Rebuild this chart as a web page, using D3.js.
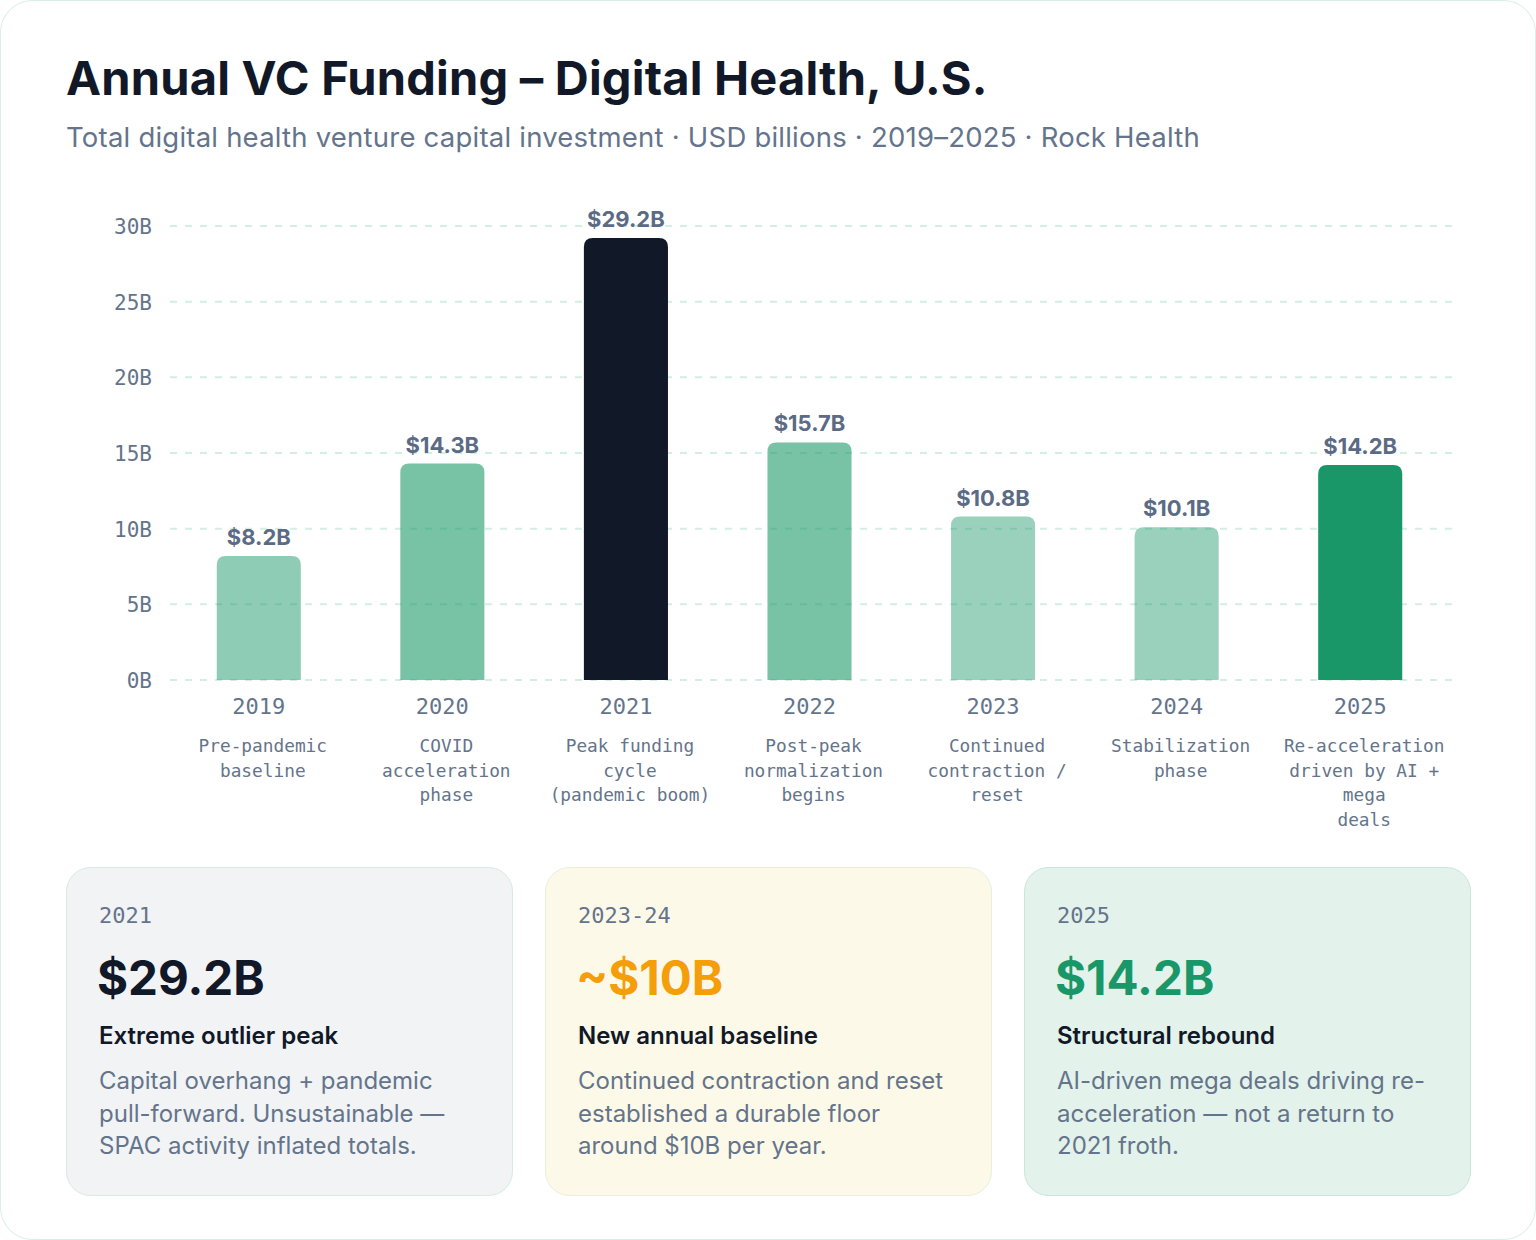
<!DOCTYPE html>
<html>
<head>
<meta charset="utf-8">
<script src="https://cdn.jsdelivr.net/npm/d3@7"></script>
<style>
  body { margin: 0; background: #fff; }
  #chart { width: 1536px; height: 1240px; }
</style>
</head>
<body>
<div id="chart"></div>
<script>
// 数据
const years = ["2019", "2020", "2021", "2022", "2023", "2024", "2025"];
const funding = [8.2, 14.3, 29.2, 15.7, 10.8, 10.1, 14.2];
const phases = [
  ["Pre-pandemic", "baseline"],
  ["COVID", "acceleration", "phase"],
  ["Peak funding", "cycle", "(pandemic boom)"],
  ["Post-peak", "normalization", "begins"],
  ["Continued", "contraction /", "reset"],
  ["Stabilization", "phase"],
  ["Re-acceleration", "driven by AI +", "mega", "deals"]
];
const yTicks = [0, 5, 10, 15, 20, 25, 30];

const cardYears = ["2021", "2023-24", "2025"];
const cardValues = ["$29.2B", "~$10B", "$14.2B"];
const cardTitles = ["Extreme outlier peak", "New annual baseline", "Structural rebound"];
const cardBodies = [
  ["Capital overhang + pandemic", "pull-forward. Unsustainable \u2014", "SPAC activity inflated totals."],
  ["Continued contraction and reset", "established a durable floor", "around $10B per year."],
  ["AI-driven mega deals driving re-", "acceleration \u2014 not a return to", "2021 froth."]
];

const W = 1536, H = 1240;
const sans = "Inter, 'Noto Sans', sans-serif";
const mono = "'DejaVu Sans Mono', 'Liberation Mono', monospace";
const slate = "#64748b";
const green = "#1a9768";

const svg = d3.select("#chart").append("svg")
  .attr("width", W).attr("height", H);

// 外框
svg.append("rect")
  .attr("x", 0.5).attr("y", 0.5).attr("width", W - 1).attr("height", H - 1)
  .attr("rx", 32).attr("fill", "#fff").attr("stroke", "#d8eee6");

// 标题
svg.append("text").attr("x", 66).attr("y", 95)
  .attr("font-family", sans).attr("font-weight", 700).attr("font-size", 47)
  .attr("letter-spacing", 0.2).attr("fill", "#111827")
  .text("Annual VC Funding \u2013 Digital Health, U.S.");
svg.append("text").attr("x", 66).attr("y", 147)
  .attr("font-family", sans).attr("font-size", 27.5).attr("letter-spacing", 0.22).attr("fill", slate)
  .text("Total digital health venture capital investment \u00b7 USD billions \u00b7 2019\u20132025 \u00b7 Rock Health");

// 比例尺
const x = d3.scaleBand().domain(years).range([167, 1452]).paddingInner(0.542).paddingOuter(0.271);
const y = d3.scaleLinear().domain([0, 30]).range([680, 226]);

// 网格
const grid = svg.append("g");
grid.selectAll("line").data(yTicks).join("line")
  .attr("x1", 170).attr("x2", 1455)
  .attr("y1", d => y(d)).attr("y2", d => y(d))
  .attr("stroke", "#d3eee3").attr("stroke-width", 2).attr("stroke-dasharray", "7,8");

// y轴
const yAxis = svg.append("g").attr("transform", "translate(152,0)")
  .call(d3.axisLeft(y).tickValues(yTicks).tickSize(0).tickPadding(0).tickFormat(d => d + "B"));
yAxis.select(".domain").remove();
yAxis.selectAll("text").attr("font-family", mono).attr("font-size", 21).attr("fill", slate).attr("dy", "0.35em");

// 柱子
const opac = [0.49, 0.59, 1, 0.59, 0.44, 0.44, 1];
const fills = [green, green, "#111827", green, green, green, green];
function topRounded(x0, y0, w, h, r) {
  r = Math.min(r, h);
  return `M${x0},${y0 + h}V${y0 + r}Q${x0},${y0} ${x0 + r},${y0}H${x0 + w - r}Q${x0 + w},${y0} ${x0 + w},${y0 + r}V${y0 + h}Z`;
}
svg.append("g").selectAll("path").data(funding).join("path")
  .attr("d", (d, i) => topRounded(x(years[i]), y(d), x.bandwidth(), y(0) - y(d), 9))
  .attr("fill", (d, i) => fills[i]).attr("fill-opacity", (d, i) => opac[i]);

// 数值标签
svg.append("g").selectAll("text").data(funding).join("text")
  .attr("x", (d, i) => x(years[i]) + x.bandwidth() / 2)
  .attr("y", d => y(d) - 11)
  .attr("text-anchor", "middle")
  .attr("font-family", sans).attr("font-weight", 700).attr("font-size", 22)
  .attr("fill", "#5b6b85")
  .text(d => "$" + d.toFixed(1) + "B");

// x轴年份
const xAxis = svg.append("g").attr("transform", "translate(0,680)")
  .call(d3.axisBottom(x).tickSize(0).tickPadding(0));
xAxis.select(".domain").remove();
xAxis.selectAll("text").attr("font-family", mono).attr("font-size", 22).attr("fill", slate)
  .attr("dy", 0).attr("y", 34);

// 阶段说明
const ph = svg.append("g").selectAll("text").data(phases).join("text")
  .attr("text-anchor", "middle")
  .attr("font-family", mono).attr("font-size", 17.8).attr("fill", slate);
ph.selectAll("tspan").data((d, i) => d.map(t => ({ t, i }))).join("tspan")
  .attr("x", d => x(years[d.i]) + x.bandwidth() / 2 + 4)
  .attr("y", (d, j) => 752 + j * 24.5)
  .text(d => d.t);

// 卡片
const cardX = [66, 545, 1024];
const cardBg = ["#f1f3f5", "#fdf9e9", "#e3f2ea"];
const cardBorder = ["#d6ebe2", "#ebeedc", "#c9e6d8"];
const cardValColor = ["#111827", "#f59e0b", green];
const cards = svg.append("g").selectAll("g").data(cardX).join("g")
  .attr("transform", d => `translate(${d},867)`);
cards.append("rect").attr("x", 0.5).attr("y", 0.5).attr("width", 446).attr("height", 328)
  .attr("rx", 24).attr("fill", (d, i) => cardBg[i]).attr("stroke", (d, i) => cardBorder[i]);
cards.append("text").attr("x", 33).attr("y", 56)
  .attr("font-family", mono).attr("font-size", 22).attr("fill", slate)
  .text((d, i) => cardYears[i]);
cards.append("text").attr("x", 31).attr("y", 128)
  .attr("font-family", sans).attr("font-weight", 700).attr("font-size", 47.5)
  .attr("fill", (d, i) => cardValColor[i])
  .text((d, i) => cardValues[i]);
cards.append("text").attr("x", 33).attr("y", 177)
  .attr("font-family", sans).attr("font-weight", 600).attr("font-size", 24).attr("fill", "#111827")
  .text((d, i) => cardTitles[i]);
cards.append("text")
  .attr("font-family", sans).attr("font-size", 24).attr("fill", slate)
  .selectAll("tspan").data((d, i) => cardBodies[i]).join("tspan")
  .attr("x", 33).attr("y", (d, j) => 222 + j * 32.5)
  .text(d => d);
</script>
</body>
</html>
